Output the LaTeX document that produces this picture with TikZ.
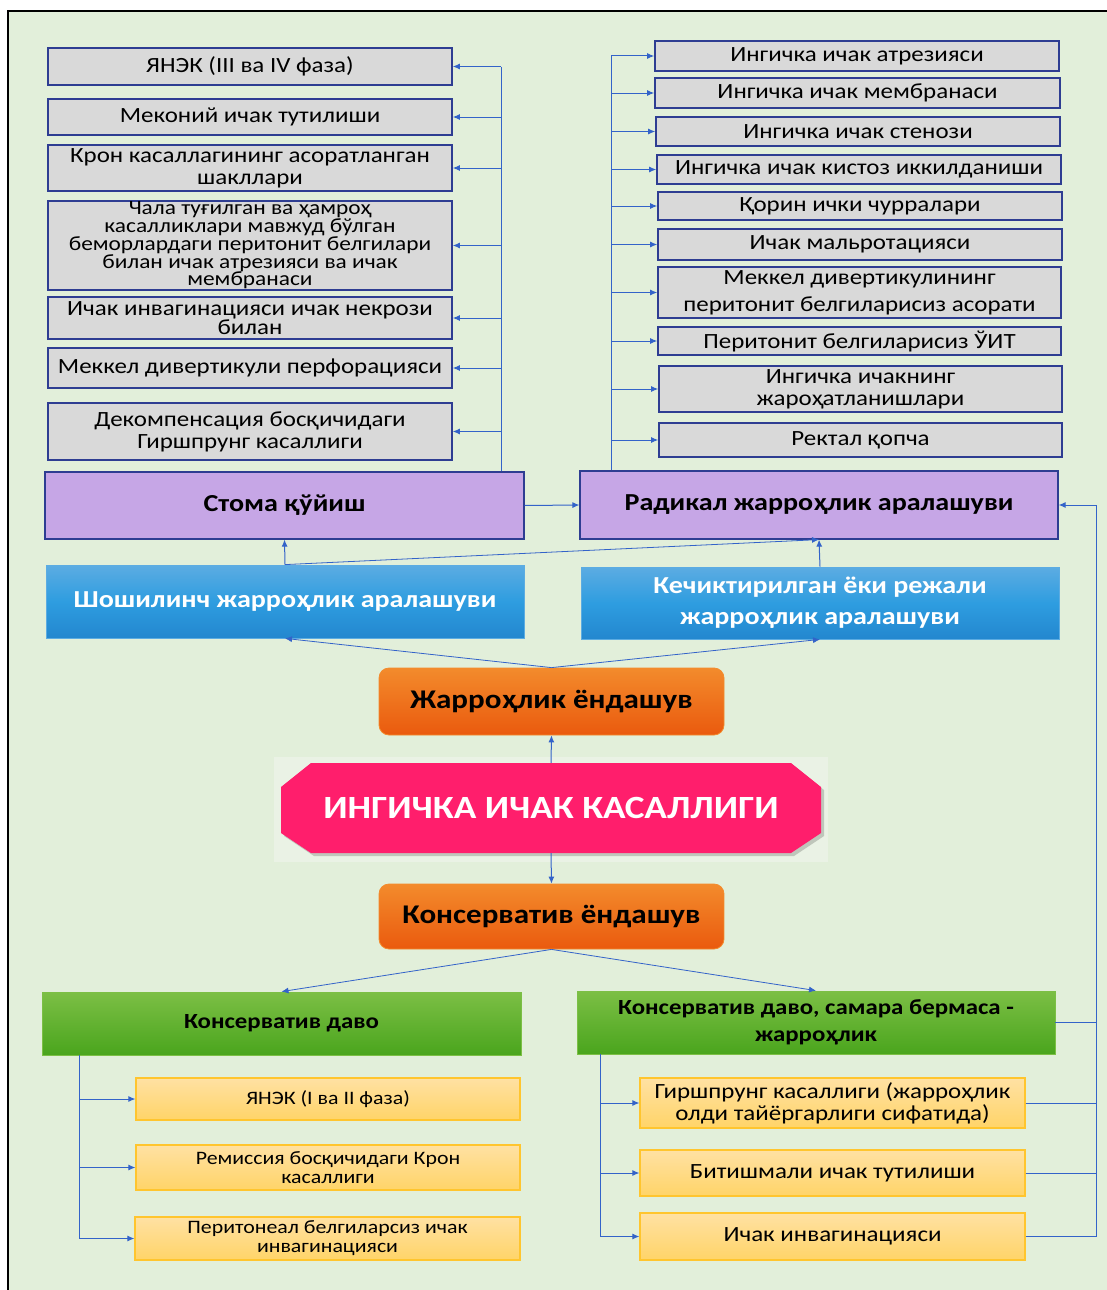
\documentclass[tikz,border=0pt]{standalone}
\usepackage{fontspec}
\setmainfont{Carlito}[FakeStretch=1.15]
\usetikzlibrary{arrows.meta}
\definecolor{bgc}{HTML}{E2EFDA}
\definecolor{bgl}{HTML}{EAF2E5}
\definecolor{gbox}{HTML}{D9D9D9}
\definecolor{gedge}{HTML}{2E3D92}
\definecolor{purp}{HTML}{C6A6E6}
\definecolor{lnk}{HTML}{3363C9}
\definecolor{blueT}{HTML}{5CACE2}
\definecolor{blueM}{HTML}{2E9DE0}
\definecolor{blueB}{HTML}{2387CF}
\definecolor{oraT}{HTML}{F38B2C}
\definecolor{oraB}{HTML}{EA5A0E}
\definecolor{pinkc}{HTML}{FF1E6C}
\definecolor{grnT}{HTML}{7CBF45}
\definecolor{grnB}{HTML}{4AA51D}
\definecolor{yelT}{HTML}{FFE1A3}
\definecolor{yelB}{HTML}{FFD468}
\definecolor{yedge}{HTML}{FFC52E}
\newcommand{\myfs}[2]{\fontsize{#1}{#2}\selectfont}
\tikzset{
  grayb/.style={draw=gedge, line width=1.6pt, fill=gbox, inner sep=0pt, align=center, font=\myfs{21.7}{22}},
  purpb/.style={draw=gedge, line width=1.2pt, fill=purp, inner sep=0pt, align=center, font=\myfs{24.4}{28}\bfseries},
  blueb/.style={draw=blueT, line width=0.8pt, top color=blueT, bottom color=blueB, middle color=blueM, inner sep=0pt, align=center, text=white, font=\myfs{24.4}{31}\bfseries},
  orab/.style={draw=oraT, line width=0.8pt, rounded corners=10pt, top color=oraT, bottom color=oraB, inner sep=0pt, align=center, font=\myfs{27}{30}\bfseries},
  grnb/.style={draw=grnT, line width=0.8pt, top color=grnT, bottom color=grnB, inner sep=0pt, align=center, font=\myfs{21.6}{27}\bfseries},
  yelb/.style={draw=yedge, line width=1.2pt, top color=yelT, bottom color=yelB, inner sep=0pt, align=center},
  ln/.style={draw=lnk, line width=1pt},
  arr/.style={draw=lnk, line width=1pt, -{Latex[length=7pt,width=6pt]}},
  darr/.style={draw=lnk, line width=0.8pt, -{Latex[length=7pt,width=6pt]}},
}
\begin{document}
\begin{tikzpicture}[x=1pt, y=-1pt]
\useasboundingbox (0,0) rectangle (1107,1290);
\fill[white] (0,0) rectangle (1107,1290);
\fill[bgc] (8,11) rectangle (1107,1290);
\draw[black, line width=2.5pt] (8,1290) -- (8,11) -- (1107,11);

% left gray column
\node[grayb, minimum width=404pt, minimum height=37pt] (L1) at (250,66.5) {ЯНЭК (III ва IV фаза)};
\node[grayb, minimum width=404pt, minimum height=36pt] (L2) at (250,117) {Меконий ичак тутилиши};
\node[grayb, minimum width=404pt, minimum height=46pt] (L3) at (250,168) {Крон касаллагининг асоратланган\\шакллари};
\node[grayb, minimum width=404pt, minimum height=89pt, font=\myfs{20.3}{17.7}] (L4) at (250,245.5) {Чала туғилган ва ҳамроҳ\\касалликлари мавжуд бўлган\\беморлардаги перитонит белгилари\\билан ичак атрезияси ва ичак\\мембранаси};
\node[grayb, minimum width=404pt, minimum height=42pt, font=\myfs{21.7}{18}] (L5) at (250,318) {Ичак инвагинацияси ичак некрози\\билан};
\node[grayb, minimum width=404pt, minimum height=40pt] (L6) at (250,368) {Меккел дивертикули перфорацияси};
\node[grayb, minimum width=404pt, minimum height=57pt] (L7) at (250,431.5) {Декомпенсация босқичидаги\\Гиршпрунг касаллиги};

% right gray column
\node[grayb, minimum width=404pt, minimum height=30pt] (R1) at (857,56) {Ингичка ичак атрезияси};
\node[grayb, minimum width=405pt, minimum height=30pt] (R2) at (857.5,93) {Ингичка ичак мембранаси};
\node[grayb, minimum width=404pt, minimum height=29pt] (R3) at (858,131.5) {Ингичка ичак стенози};
\node[grayb, minimum width=404pt, minimum height=29pt] (R4) at (859,169.5) {Ингичка ичак кистоз иккилданиши};
\node[grayb, minimum width=404pt, minimum height=28pt] (R5) at (860,206) {Қорин ички чурралари};
\node[grayb, minimum width=404pt, minimum height=31pt] (R6) at (860,244.5) {Ичак мальротацияси};
\node[grayb, minimum width=403pt, minimum height=51pt, font=\myfs{21.7}{27}] (R7) at (859.5,292.5) {Меккел дивертикулининг\\перитонит белгиларисиз асорати};
\node[grayb, minimum width=403pt, minimum height=28pt] (R8) at (859.5,341) {Перитонит белгиларисиз ЎИТ};
\node[grayb, minimum width=403pt, minimum height=46pt] (R9) at (860.5,389) {Ингичка ичакнинг\\жароҳатланишлари};
\node[grayb, minimum width=403pt, minimum height=34pt] (R10) at (860.5,440) {Ректал қопча};

% purple
\node[purpb, minimum width=479pt, minimum height=67pt] (stoma) at (284.5,505.5) {Стома қўйиш};
\node[purpb, minimum width=478pt, minimum height=68pt] (radical) at (819,505) {Радикал жарроҳлик аралашуви};

% blue
\node[blueb, minimum width=478pt, minimum height=73pt] (shosh) at (285,601.5) {Шошилинч жарроҳлик аралашуви};
\node[blueb, minimum width=478pt, minimum height=72pt] (kech) at (820,603) {Кечиктирилган ёки режали\\жарроҳлик аралашуви};

% orange
\node[orab, minimum width=345pt, minimum height=67pt] (jarr) at (551.5,701.5) {Жарроҳлик ёндашув};
\node[orab, minimum width=345pt, minimum height=65pt] (kons) at (551.5,916.5) {Консерватив ёндашув};

% octagon
\fill[bgl] (274,757) rectangle (828,862);
\fill[black, opacity=0.18] (314,766) -- (794,766) -- (824,790) -- (824,836) -- (794,856) -- (314,856) -- (284,836) -- (284,790) -- cycle;
\fill[pinkc] (311,763) -- (791,763) -- (821,787) -- (821,833) -- (791,853) -- (311,853) -- (281,833) -- (281,787) -- cycle;
\node[minimum width=540pt, minimum height=90pt, inner sep=0pt, text=white, font=\myfs{32.4}{40}\bfseries] (oct) at (551,808) {ИНГИЧКА ИЧАК КАСАЛЛИГИ};

% green
\node[grnb, minimum width=479pt, minimum height=63pt] (KD) at (281.5,1023.5) {Консерватив даво};
\node[grnb, minimum width=478pt, minimum height=63pt] (KDS) at (816,1022.5) {Консерватив даво, самара бермаса -\\жарроҳлик};

% yellow left
\node[yelb, minimum width=384pt, minimum height=42pt, font=\myfs{19}{19}] (Y1) at (328,1099) {ЯНЭК (I ва II фаза)};
\node[yelb, minimum width=384pt, minimum height=45pt, font=\myfs{19}{19}] (Y2) at (328,1167.5) {Ремиссия босқичидаги Крон\\касаллиги};
\node[yelb, minimum width=385pt, minimum height=43pt, font=\myfs{19}{19}] (Y3) at (327.5,1238.5) {Перитонеал белгиларсиз ичак\\инвагинацияси};

% yellow right
\node[yelb, minimum width=385pt, minimum height=50pt, font=\myfs{21.7}{22}] (Z1) at (832.5,1103) {Гиршпрунг касаллиги (жарроҳлик\\олди тайёргарлиги сифатида)};
\node[yelb, minimum width=385pt, minimum height=46pt, font=\myfs{21.7}{22}] (Z2) at (832.5,1173) {Битишмали ичак тутилиши};
\node[yelb, minimum width=385pt, minimum height=47pt, font=\myfs{21.7}{22}] (Z3) at (832.5,1236.5) {Ичак инвагинацияси};

% connectors: left trunk
\coordinate (lt) at (501,67);
\draw[ln] (stoma.north -| lt) -- (lt);
\foreach \b in {L1,L2,L3,L4,L5,L6,L7} \draw[arr] (lt |- \b.east) -- (\b.east);

% right trunk
\coordinate (rt) at (611,56);
\draw[ln] (radical.north -| rt) -- (rt);
\foreach \b in {R1,R2,R3,R4,R5,R6,R7,R8,R9,R10} \draw[arr] (rt |- \b.west) -- (\b.west);

% middle
\draw[arr] (stoma.east) -- (radical.west);
\draw[arr] (shosh.north) -- (stoma.south);
\draw[darr] (shosh.north) -- (radical.south);
\draw[arr] (kech.north) -- (radical.south);
\draw[darr] (jarr.north) -- (shosh.south);
\draw[darr] (jarr.north) -- (kech.south);
\draw[arr] (oct.north) -- (jarr.south);
\draw[arr] (oct.south) -- (kons.north);
\draw[darr] (kons.south) -- (KD.north);
\draw[darr] (kons.south) -- (KDS.north);

% bottom left trunk
\coordinate (yl) at (79,1100);
\draw[ln] (KD.south -| yl) -- (yl |- Y3.west);
\foreach \b in {Y1,Y2,Y3} \draw[arr] (yl |- \b.west) -- (\b.west);

% bottom right trunk
\coordinate (yr) at (600,1100);
\draw[ln] (KDS.south -| yr) -- (yr |- Z3.west);
\foreach \b in {Z1,Z2,Z3} \draw[arr] (yr |- \b.west) -- (\b.west);

% return line
\coordinate (rr) at (1096,505);
\draw[arr] (Z3.east) -| (rr) -- (radical.east);
\draw[ln] (Z1.east) -- (Z1.east -| rr);
\draw[ln] (Z2.east) -- (Z2.east -| rr);
\draw[ln] (KDS.east) -- (KDS.east -| rr);
\end{tikzpicture}
\end{document}
